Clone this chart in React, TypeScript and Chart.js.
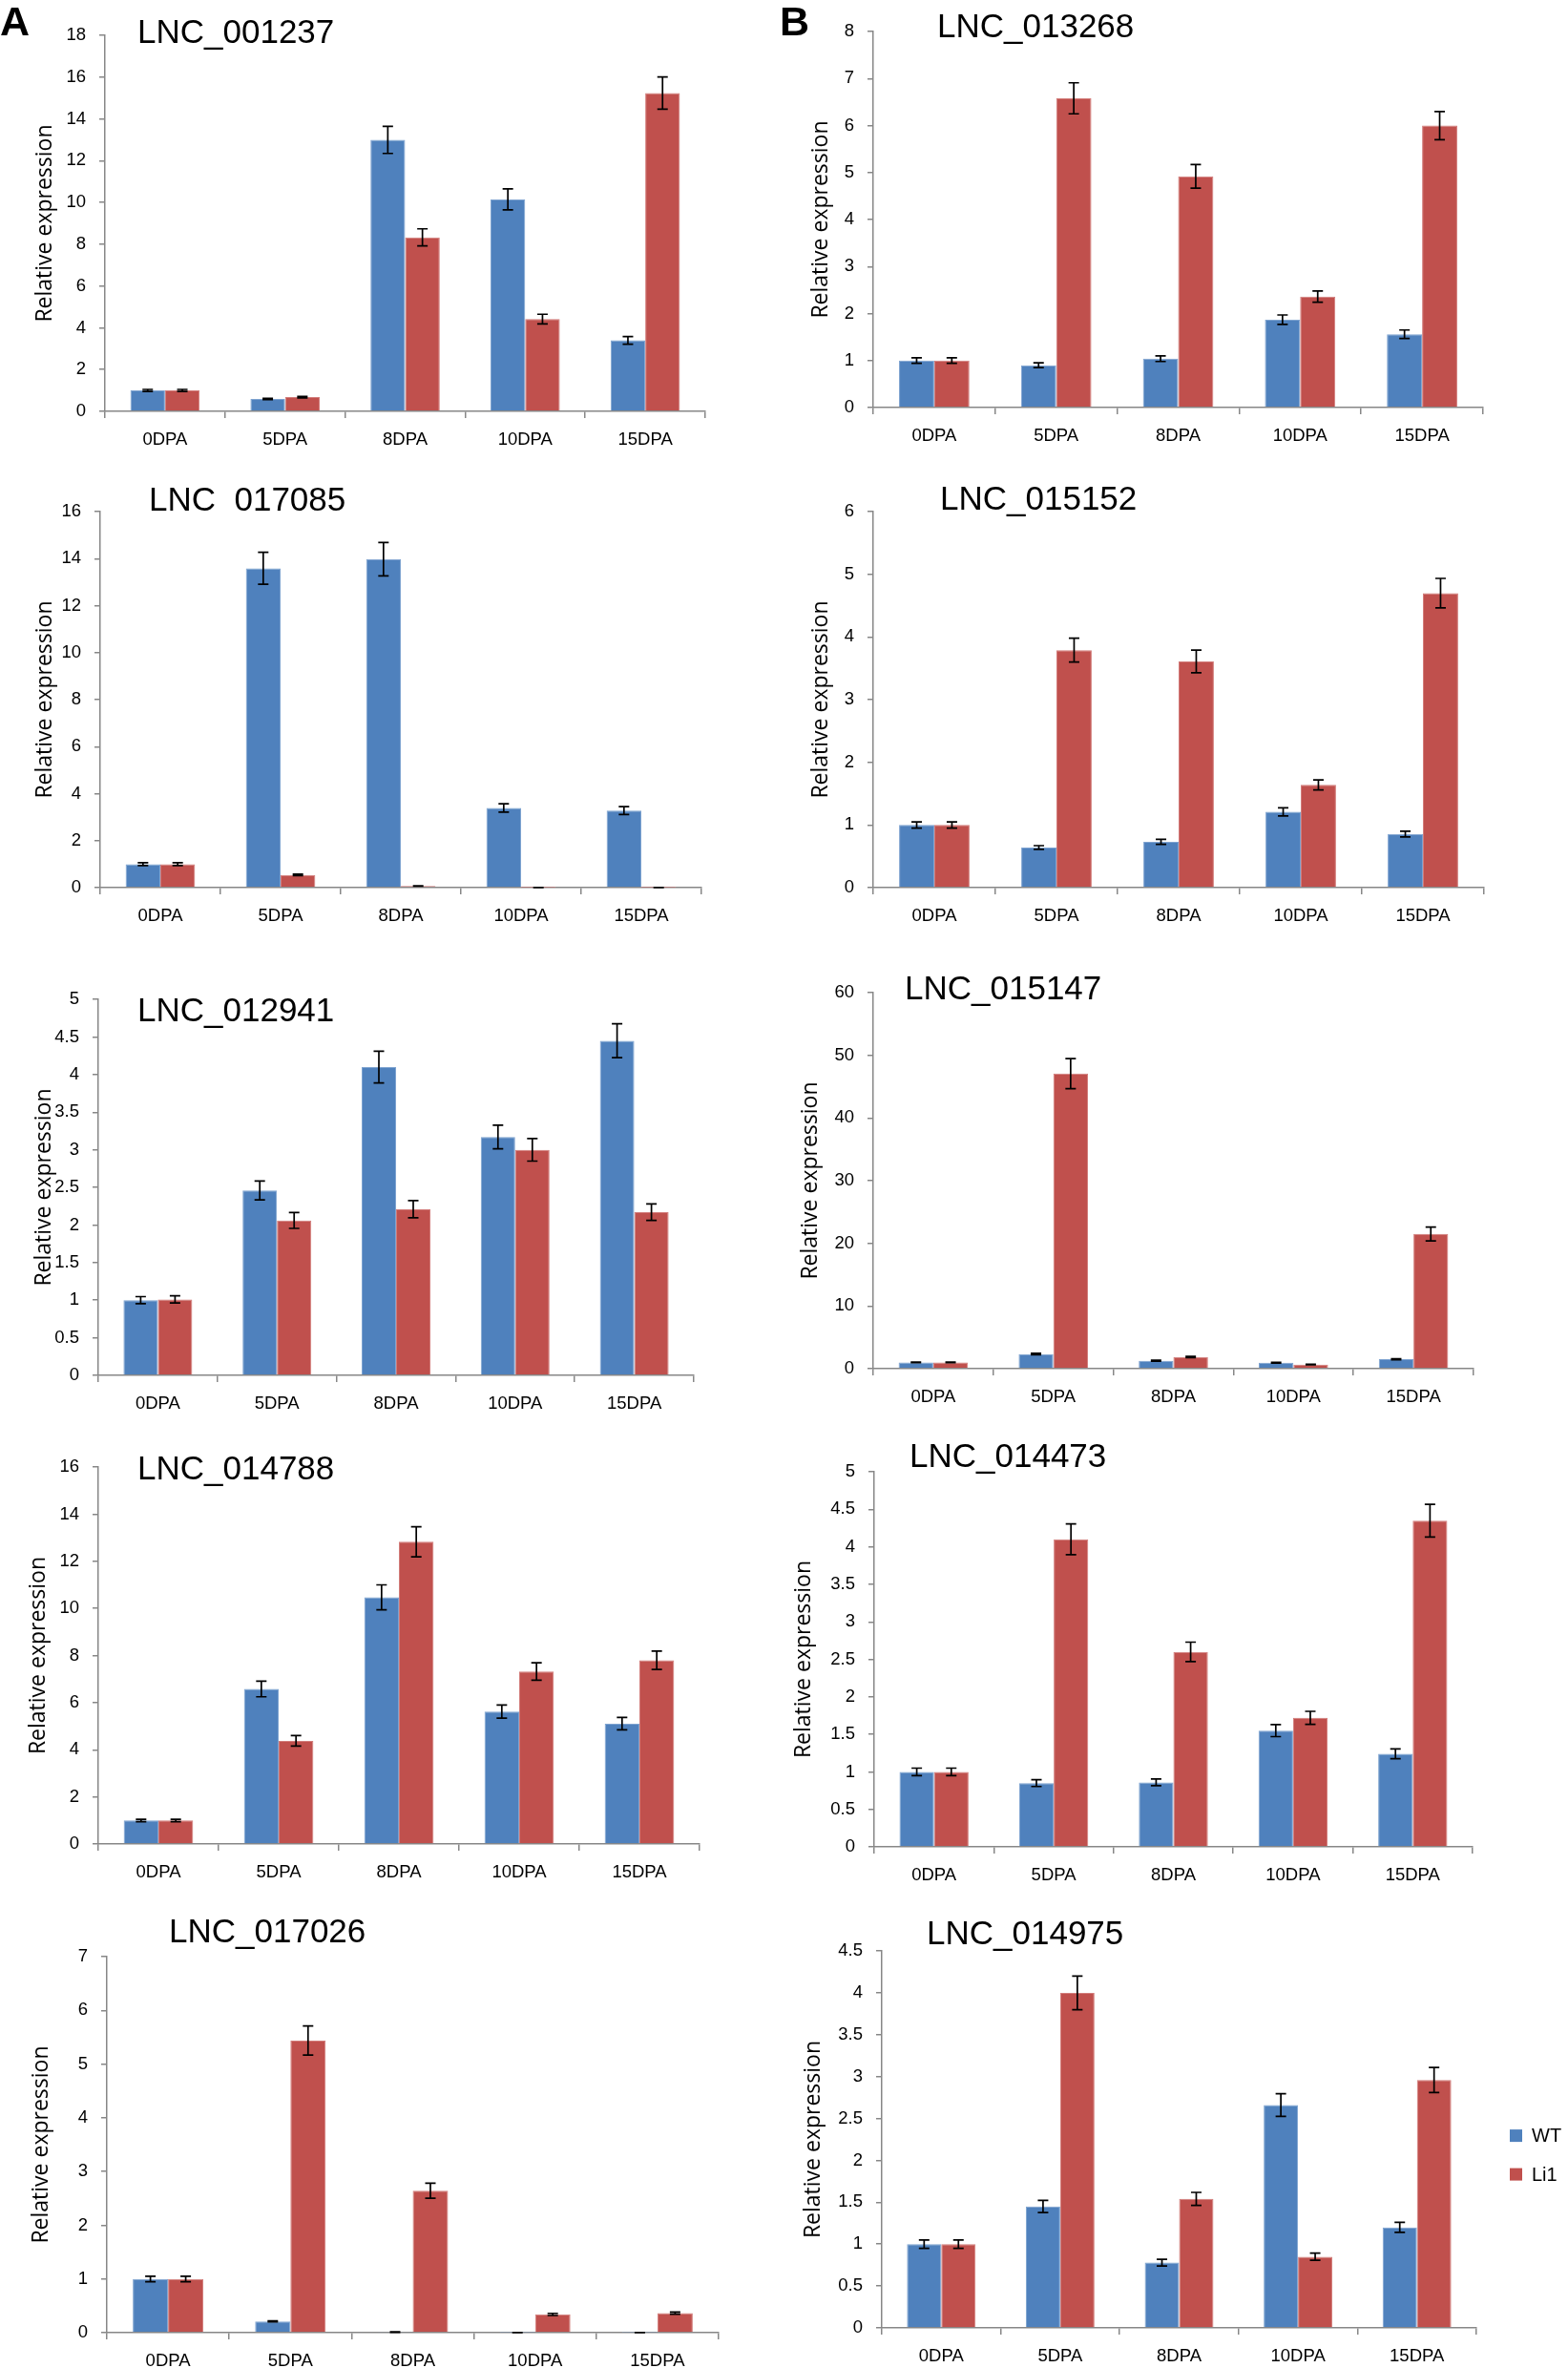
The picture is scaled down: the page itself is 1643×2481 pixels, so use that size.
import { useEffect, useRef } from 'react';
import { Chart, registerables } from 'chart.js';

Chart.register(...registerables);

// ---------------- data ----------------
const categories = ['0DPA', '5DPA', '8DPA', '10DPA', '15DPA'];
const seriesLabels = ['WT', 'Li1'];
const yAxisTitle = 'Relative expression';

const geneNames = [
  'LNC_001237', 'LNC  017085', 'LNC_012941', 'LNC_014788', 'LNC_017026',
  'LNC_013268', 'LNC_015152', 'LNC_015147', 'LNC_014473', 'LNC_014975',
];
const yMaxValues = [18, 16, 5, 16, 7, 8, 6, 60, 5, 4.5];
const yStepValues = [2, 2, 0.5, 2, 1, 1, 1, 10, 0.5, 0.5];

const wt001237 = [1.0, 0.59, 13.0, 10.15, 3.4];
const wt001237Err = [0.05, 0.03, 0.65, 0.5, 0.18];
const li001237 = [1.0, 0.68, 8.33, 4.42, 15.24];
const li001237Err = [0.05, 0.03, 0.41, 0.23, 0.77];

const wt017085 = [1.0, 13.59, 13.98, 3.39, 3.28];
const wt017085Err = [0.06, 0.68, 0.71, 0.18, 0.17];
const li017085 = [1.0, 0.54, 0.07, 0.005, 0.005];
const li017085Err = [0.06, 0.03, 0.01, 0.002, 0.002];

const wt012941 = [1.0, 2.46, 4.1, 3.17, 4.45];
const wt012941Err = [0.047, 0.125, 0.21, 0.158, 0.225];
const li012941 = [1.01, 2.06, 2.21, 3.0, 2.17];
const li012941Err = [0.048, 0.105, 0.114, 0.15, 0.11];

const wt014788 = [1.0, 6.58, 10.47, 5.62, 5.11];
const wt014788Err = [0.05, 0.33, 0.53, 0.28, 0.26];
const li014788 = [1.0, 4.38, 12.83, 7.32, 7.8];
const li014788Err = [0.05, 0.22, 0.64, 0.37, 0.39];

const wt017026 = [1.0, 0.21, 0.01, 0.003, 0.003];
const wt017026Err = [0.05, 0.01, 0.005, 0.001, 0.001];
const li017026 = [1.0, 5.44, 2.645, 0.34, 0.365];
const li017026Err = [0.05, 0.27, 0.14, 0.02, 0.02];

const wt013268 = [1.0, 0.9, 1.04, 1.87, 1.56];
const wt013268Err = [0.06, 0.05, 0.06, 0.1, 0.09];
const li013268 = [1.0, 6.58, 4.92, 2.36, 6.0];
const li013268Err = [0.06, 0.33, 0.25, 0.12, 0.3];

const wt015152 = [1.0, 0.64, 0.73, 1.21, 0.855];
const wt015152Err = [0.05, 0.03, 0.04, 0.065, 0.045];
const li015152 = [1.0, 3.79, 3.61, 1.64, 4.7];
const li015152Err = [0.05, 0.19, 0.18, 0.08, 0.235];

const wt015147 = [1.0, 2.33, 1.27, 0.96, 1.52];
const wt015147Err = [0.05, 0.12, 0.07, 0.05, 0.08];
const li015147 = [1.0, 47.1, 1.87, 0.66, 21.5];
const li015147Err = [0.05, 2.4, 0.09, 0.04, 1.1];

const wt014473 = [1.0, 0.85, 0.86, 1.55, 1.24];
const wt014473Err = [0.05, 0.045, 0.045, 0.08, 0.065];
const li014473 = [1.0, 4.1, 2.6, 1.72, 4.35];
const li014473Err = [0.05, 0.205, 0.13, 0.087, 0.218];

const wt014975 = [1.0, 1.45, 0.78, 2.66, 1.2];
const wt014975Err = [0.05, 0.072, 0.04, 0.135, 0.06];
const li014975 = [1.0, 4.0, 1.54, 0.85, 2.96];
const li014975Err = [0.05, 0.2, 0.078, 0.043, 0.15];

const wtSeries = [wt001237, wt017085, wt012941, wt014788, wt017026, wt013268, wt015152, wt015147, wt014473, wt014975];
const wtErrors = [wt001237Err, wt017085Err, wt012941Err, wt014788Err, wt017026Err, wt013268Err, wt015152Err, wt015147Err, wt014473Err, wt014975Err];
const liSeries = [li001237, li017085, li012941, li014788, li017026, li013268, li015152, li015147, li014473, li014975];
const liErrors = [li001237Err, li017085Err, li012941Err, li014788Err, li017026Err, li013268Err, li015152Err, li015147Err, li014473Err, li014975Err];

// ---------------- layout (page pixels) ----------------
// plot area: left, right, top, bottom; y-title centre x; gene title x & baseline
const frames = [
  { l: 109.5, r: 738.5, t: 35.7, b: 431.3, yt: 47.5, tx: 144, tb: 45 },
  { l: 104.8, r: 734.8, t: 535, b: 930.3, yt: 47.5, tx: 156, tb: 535 },
  { l: 102.9, r: 727.2, t: 1045.7, b: 1441.3, yt: 46.5, tx: 144, tb: 1070 },
  { l: 102.9, r: 732.9, t: 1536, b: 1931.7, yt: 40.5, tx: 144, tb: 1550 },
  { l: 111.8, r: 753, t: 2048.7, b: 2444, yt: 43, tx: 177, tb: 2035 },
  { l: 915.3, r: 1554, t: 32, b: 427, yt: 860, tx: 982, tb: 38.3 },
  { l: 915.3, r: 1555, t: 535, b: 930.3, yt: 860, tx: 985, tb: 533.3 },
  { l: 914.8, r: 1543.9, t: 1038.7, b: 1433.7, yt: 849.5, tx: 948, tb: 1046.7 },
  { l: 916.3, r: 1542.9, t: 1541, b: 1935.3, yt: 842, tx: 953, tb: 1536.7 },
  { l: 923.7, r: 1547.3, t: 2043.3, b: 2439, yt: 852, tx: 971, tb: 2036.7 },
];
const LEGEND_PANEL = 9;
const PAGE_W = 1643;
const PAGE_H = 2481;
const Y_AXIS_W = 100;
const X_AXIS_H = 56;
const PAD_TOP = 24;
const PAD_RIGHT = 10;

const BLUE = '#4F81BD';
const RED = '#C0504D';
const BLUE_EDGE = '#7EA3D0';
const RED_EDGE = '#D27C7A';
const AXIS = '#878787';
const NUM_FONT = 'Liberation Sans, Arial, sans-serif';
const TITLE_FONT = '"Open Sans", "DejaVu Sans", sans-serif';
const Y_TITLE_SIZE = 23;

const errorBarPlugin = {
  id: 'errorBars',
  afterDatasetsDraw(chart: any, _args: any, opts: any) {
    const { ctx } = chart;
    const yScale = chart.scales.y;
    chart.data.datasets.forEach((ds: any, di: number) => {
      const meta = chart.getDatasetMeta(di);
      const errs: number[] = ds.errors || [];
      meta.data.forEach((bar: any, i: number) => {
        const v = ds.data[i];
        const e = errs[i] || 0;
        const yTop = yScale.getPixelForValue(v + e);
        const yBot = yScale.getPixelForValue(Math.max(0, v - e));
        const cap = opts.cap;
        ctx.save();
        ctx.strokeStyle = opts.color;
        ctx.lineWidth = opts.width;
        ctx.beginPath();
        ctx.moveTo(bar.x, yTop);
        ctx.lineTo(bar.x, yBot);
        ctx.moveTo(bar.x - cap, yTop);
        ctx.lineTo(bar.x + cap, yTop);
        ctx.moveTo(bar.x - cap, yBot);
        ctx.lineTo(bar.x + cap, yBot);
        ctx.stroke();
        ctx.restore();
      });
    });
  },
};

const sideLegendPlugin = {
  id: 'sideLegend',
  afterDraw(chart: any, _args: any, opts: any) {
    if (!opts || !opts.show) return;
    const { ctx, chartArea } = chart;
    chart.data.datasets.forEach((ds: any, i: number) => {
      const cy = chartArea.top + opts.firstRow + i * opts.rowGap;
      const x = chartArea.right + opts.offsetX;
      ctx.save();
      ctx.fillStyle = ds.backgroundColor;
      ctx.fillRect(x, cy - opts.box / 2, opts.box, opts.box);
      ctx.fillStyle = '#000';
      ctx.font = `${opts.fontSize}px ${NUM_FONT}`;
      ctx.textBaseline = 'middle';
      ctx.textAlign = 'left';
      ctx.fillText(ds.label, x + opts.box + opts.textGap, cy + 1);
      ctx.restore();
    });
  },
};

function BarPanel({ index }: { index: number }) {
  const ref = useRef<HTMLCanvasElement>(null);
  const f = frames[index];
  const isLegend = index === LEGEND_PANEL;
  const L = Math.round(f.l);
  const R = Math.round(f.r);
  const T = Math.round(f.t);
  const B = Math.round(f.b);
  const padRight = isLegend ? PAGE_W - R : PAD_RIGHT;
  const canvasLeft = L - Y_AXIS_W;
  const canvasTop = T - PAD_TOP;
  const width = Y_AXIS_W + (R - L) + padRight;
  const height = PAD_TOP + (B - T) + X_AXIS_H;
  const titleLineHeight = Y_TITLE_SIZE * 1.2;
  const titlePad = f.yt - canvasLeft - titleLineHeight / 2;

  useEffect(() => {
    if (!ref.current) return;
    const chart = new Chart(ref.current, {
      type: 'bar',
      data: {
        labels: categories,
        datasets: [
          {
            label: seriesLabels[0],
            data: wtSeries[index],
            errors: wtErrors[index],
            backgroundColor: BLUE,
            borderColor: BLUE_EDGE,
            borderWidth: 1,
            categoryPercentage: 0.577,
            barPercentage: 1,
          } as any,
          {
            label: seriesLabels[1],
            data: liSeries[index],
            errors: liErrors[index],
            backgroundColor: RED,
            borderColor: RED_EDGE,
            borderWidth: 1,
            categoryPercentage: 0.577,
            barPercentage: 1,
          } as any,
        ],
      },
      plugins: [errorBarPlugin, sideLegendPlugin],
      options: {
        responsive: false,
        animation: false,
        devicePixelRatio: 1,
        layout: { padding: { top: PAD_TOP, right: padRight, left: 0, bottom: 0 } },
        plugins: {
          legend: { display: false },
          tooltip: { enabled: false },
          title: { display: false },
          errorBars: { color: '#000', width: 1.7, cap: 5.5 },
          sideLegend: isLegend
            ? { show: true, offsetX: 35, firstRow: 193.5, rowGap: 40.5, box: 13, textGap: 10, fontSize: 20 }
            : { show: false },
        } as any,
        scales: {
          x: {
            grid: {
              display: true,
              offset: true,
              drawOnChartArea: false,
              drawTicks: true,
              tickLength: 7,
              color: AXIS,
              lineWidth: 1.5,
            },
            border: { display: true, color: AXIS, width: 1.5 },
            ticks: { font: { family: NUM_FONT, size: 18.5 }, color: '#000', padding: 12, maxRotation: 0 },
            afterFit: (s: any) => {
              s.height = X_AXIS_H;
            },
          },
          y: {
            min: 0,
            max: yMaxValues[index],
            ticks: {
              stepSize: yStepValues[index],
              font: { family: NUM_FONT, size: 18.5 },
              color: '#000',
              padding: 14,
              callback: (v: any) => String(Number(v)),
            },
            grid: {
              drawOnChartArea: false,
              drawTicks: true,
              tickLength: 6,
              color: AXIS,
              lineWidth: 1.5,
            },
            border: { display: true, color: AXIS, width: 1.5 },
            title: {
              display: true,
              text: yAxisTitle,
              color: '#000',
              font: { family: TITLE_FONT, size: Y_TITLE_SIZE },
              padding: { top: titlePad, bottom: 0 },
            },
            afterFit: (s: any) => {
              s.width = Y_AXIS_W;
            },
          },
        },
      } as any,
    });
    return () => chart.destroy();
  }, [index]);

  return (
    <canvas
      ref={ref}
      width={width}
      height={height}
      style={{ position: 'absolute', left: canvasLeft, top: canvasTop, width, height }}
    />
  );
}

const TITLE_SIZE = 35;
const TITLE_BASE = 0.8465 * TITLE_SIZE;

export default function App() {
  return (
    <div
      style={{
        position: 'absolute',
        left: 0,
        top: 0,
        width: PAGE_W,
        height: PAGE_H,
        overflow: 'hidden',
        background: '#fff',
      }}
    >
      {frames.map((_, i) => (
        <BarPanel key={i} index={i} />
      ))}
      {frames.map((f, i) => (
        <div
          key={'t' + i}
          style={{
            position: 'absolute',
            left: f.tx,
            top: f.tb - TITLE_BASE,
            fontFamily: NUM_FONT,
            fontSize: TITLE_SIZE,
            lineHeight: `${TITLE_SIZE}px`,
            whiteSpace: 'pre',
            color: '#000',
          }}
        >
          {geneNames[i]}
        </div>
      ))}
      <div
        style={{
          position: 'absolute',
          left: 0,
          top: 37 - 0.8465 * 43,
          fontFamily: NUM_FONT,
          fontWeight: 'bold',
          fontSize: 43,
          lineHeight: '43px',
          color: '#000',
        }}
      >
        A
      </div>
      <div
        style={{
          position: 'absolute',
          left: 817,
          top: 37 - 0.8465 * 43,
          fontFamily: NUM_FONT,
          fontWeight: 'bold',
          fontSize: 43,
          lineHeight: '43px',
          color: '#000',
        }}
      >
        B
      </div>
    </div>
  );
}
